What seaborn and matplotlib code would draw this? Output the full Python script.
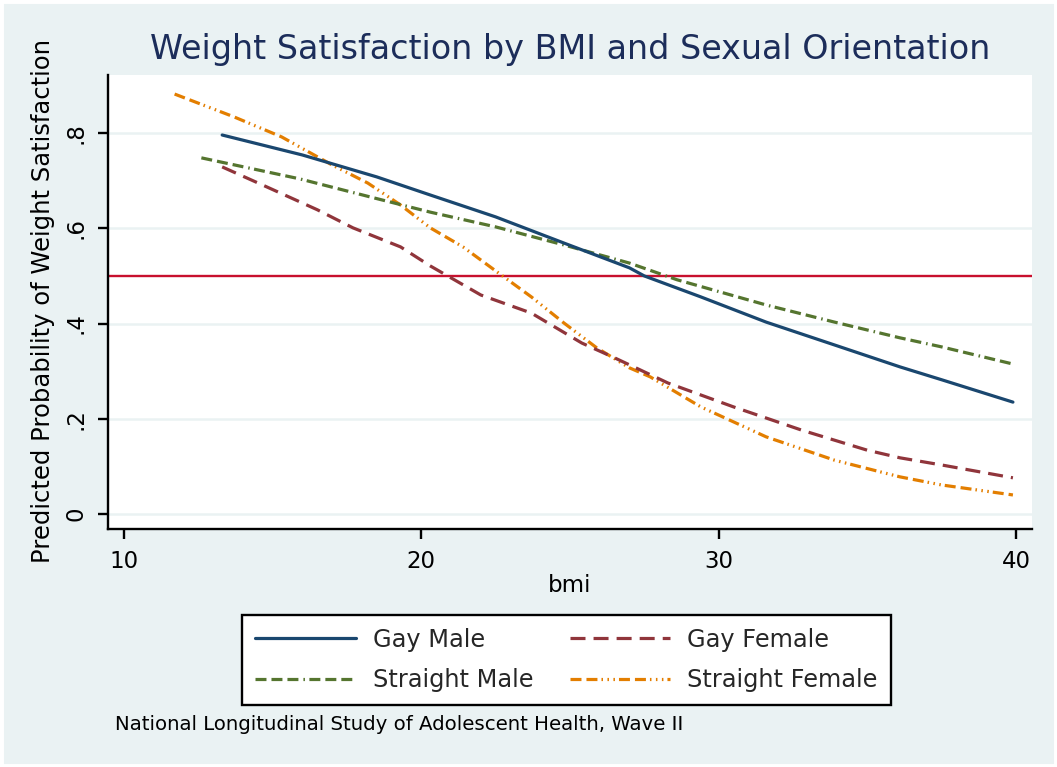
import matplotlib
matplotlib.use("Agg")
import matplotlib.pyplot as plt
import seaborn as sns
import pandas as pd
from matplotlib.lines import Line2D
from matplotlib.patches import Rectangle

# ---------------- data ----------------
gay_male_bmi = [13.3, 16.0, 18.5, 20.3, 22.5, 24.8, 27.0, 27.5, 29.4, 31.6, 33.9, 36.1, 37.5, 39.9]
gay_male_p = [0.796, 0.754, 0.708, 0.670, 0.624, 0.569, 0.517, 0.500, 0.456, 0.403, 0.355, 0.309, 0.282, 0.235]

straight_male_bmi = [12.6, 15.9, 18.4, 20.3, 22.5, 24.8, 27.0, 28.6, 31.6, 33.9, 36.1, 37.5, 39.9]
straight_male_p = [0.748, 0.704, 0.664, 0.634, 0.603, 0.565, 0.527, 0.492, 0.439, 0.403, 0.370, 0.351, 0.315]

gay_female_bmi = [13.3, 14.8, 16.5, 17.7, 19.3, 20.3, 22.0, 23.7, 25.4, 26.5, 28.3, 30.5, 32.8, 35.0, 36.1, 37.5, 39.9]
gay_female_p = [0.729, 0.687, 0.639, 0.601, 0.561, 0.521, 0.460, 0.422, 0.359, 0.328, 0.275, 0.225, 0.176, 0.134, 0.118, 0.103, 0.076]

straight_female_bmi = [11.7, 13.7, 15.3, 17.0, 18.2, 19.3, 20.3, 21.4, 22.6, 23.7, 24.8, 25.9, 27.0, 27.7, 29.4, 31.6, 33.9, 36.1, 37.5, 39.9]
straight_female_p = [0.882, 0.834, 0.792, 0.733, 0.695, 0.649, 0.601, 0.561, 0.506, 0.456, 0.401, 0.349, 0.307, 0.288, 0.225, 0.162, 0.113, 0.078, 0.061, 0.040]

series_names = ["Gay Male", "Gay Female", "Straight Male", "Straight Female"]
threshold = 0.5
x_ticks = [10, 20, 30, 40]
y_ticks = [0, 0.2, 0.4, 0.6, 0.8]
y_tick_labels = ["0", ".2", ".4", ".6", ".8"]

title = "Weight Satisfaction by BMI and Sexual Orientation"
y_label = "Predicted Probability of Weight Satisfaction"
x_label = "bmi"
caption = "National Longitudinal Study of Adolescent Health, Wave II"

# ---------------- style ----------------
sns.set_theme(style="white")
plt.rcParams["font.family"] = ["DejaVu Sans"]
plt.rcParams["lines.scale_dashes"] = False

BG = "#EAF2F3"
colors = {
    "Gay Male": "#1A476F",
    "Gay Female": "#90353B",
    "Straight Male": "#55752F",
    "Straight Female": "#E37E00",
}
styles = {
    "Gay Male": "-",
    "Gay Female": (0, (10.8, 5.8)),
    "Straight Male": (0, (7.9, 3.6, 7.9, 3.6, 7.9, 3.6, 1.1, 3.2)),
    "Straight Female": (0, (7.9, 3.6, 7.9, 2.9, 1.1, 3.2, 1.1, 3.2, 1.1, 2.9)),
}
LW = 2.3

df = pd.concat([
    pd.DataFrame({"bmi": gay_male_bmi, "p": gay_male_p, "group": "Gay Male"}),
    pd.DataFrame({"bmi": gay_female_bmi, "p": gay_female_p, "group": "Gay Female"}),
    pd.DataFrame({"bmi": straight_male_bmi, "p": straight_male_p, "group": "Straight Male"}),
    pd.DataFrame({"bmi": straight_female_bmi, "p": straight_female_p, "group": "Straight Female"}),
], ignore_index=True)

fig = plt.figure(figsize=(10.57, 7.67), dpi=100)
fig.patch.set_facecolor(BG)
ax = fig.add_axes([0.1022, 0.3103, 0.9763 - 0.1022, 0.9022 - 0.3103])
ax.set_facecolor("white")

# grid lines
for yv in y_ticks:
    ax.axhline(yv, color=BG, lw=1.8, zorder=0.5)

# draw order: straight female, straight male, gay female, gay male
for name in ["Straight Female", "Straight Male", "Gay Female", "Gay Male"]:
    sub = df[df["group"] == name]
    sns.lineplot(data=sub, x="bmi", y="p", ax=ax, color=colors[name],
                 linestyle=styles[name], linewidth=LW, errorbar=None,
                 estimator=None, sort=True, legend=False, zorder=3)

ax.axhline(threshold, color="#C8102E", lw=1.7, zorder=2)

ax.set_xlim(9.46, 40.54)
ax.set_ylim(-0.0315, 0.922)
ax.set_xticks(x_ticks)
ax.set_xticklabels([str(v) for v in x_ticks])
ax.set_yticks(y_ticks)
ax.set_yticklabels(y_tick_labels)
ax.set_xlabel("")
ax.set_ylabel("")

for s in ["top", "right"]:
    ax.spines[s].set_visible(False)
for s in ["left", "bottom"]:
    ax.spines[s].set_visible(True)
    ax.spines[s].set_color("black")
    ax.spines[s].set_linewidth(1.7)

ax.tick_params(axis="both", which="major", direction="out", length=7, width=1.7,
               color="black", labelsize=16.5, labelcolor="black", bottom=True, left=True)
ax.tick_params(axis="x", pad=8)
ax.tick_params(axis="y", pad=8)
for lab in ax.get_yticklabels():
    lab.set_rotation(90)
    lab.set_rotation_mode("default")
    lab.set_va("center")
    lab.set_ha("right")

fig.text(0.539, 0.935, title, ha="center", va="center", fontsize=24, color="#1C2D5A")
fig.text(0.0407, 0.6076, y_label, ha="center", va="center", rotation=90, fontsize=17.5, color="black")
fig.text(0.539, 1 - 585 / 767, x_label, ha="center", va="center", fontsize=16.5, color="black")
fig.text(115 / 1057, 1 - 724 / 767, caption, ha="left", va="center", fontsize=14.2, color="black")

handles = [Line2D([0], [0], color=colors[n], linestyle=styles[n], linewidth=LW)
           for n in ["Gay Male", "Straight Male", "Gay Female", "Straight Female"]]
labels = ["Gay Male", "Straight Male", "Gay Female", "Straight Female"]
leg = fig.legend(handles, labels, ncol=2, loc="center",
                 bbox_to_anchor=(566.5 / 1057, 1 - 660 / 767),
                 fontsize=17.3, frameon=True, fancybox=False, framealpha=1,
                 edgecolor="black", facecolor="white", handlelength=4.2,
                 handletextpad=0.7, columnspacing=1.5, labelspacing=0.68,
                 borderpad=0.55)
leg.get_frame().set_linewidth(1.7)

# thin white outer border
fig.patches.append(Rectangle((0, 0), 1, 1, transform=fig.transFigure, fill=False,
                             edgecolor="white", linewidth=5, zorder=10))

fig.savefig("out.png", dpi=100, facecolor=fig.get_facecolor())
